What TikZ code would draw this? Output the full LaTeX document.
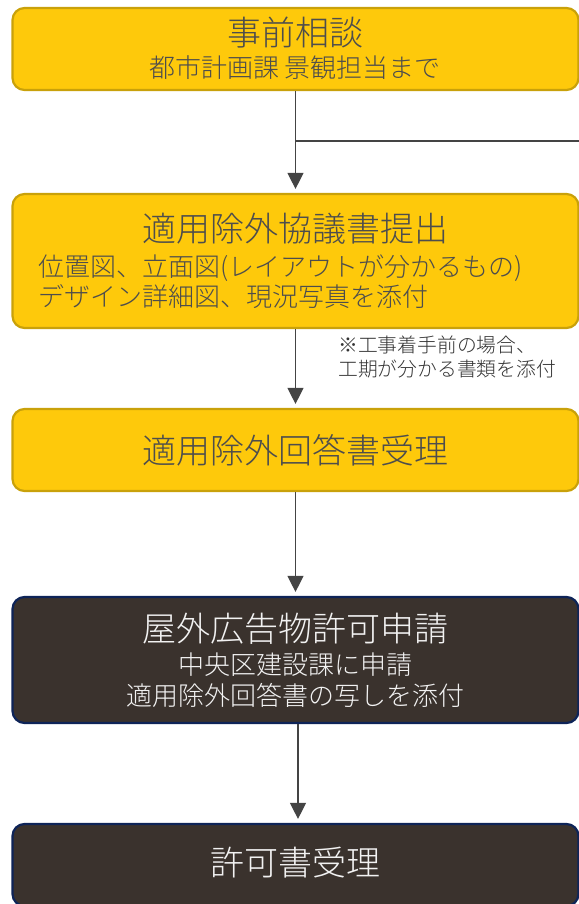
\documentclass[tikz,border=0pt]{standalone}
\usepackage{fontspec}
\setmainfont{Noto Sans CJK JP}[UprightFont=* Light]
\usetikzlibrary{arrows.meta}
\definecolor{yfill}{HTML}{FEC90B}
\definecolor{yline}{HTML}{C9A10A}
\definecolor{dfill}{HTML}{3A322D}
\definecolor{dline}{HTML}{0E2458}
\definecolor{ytext}{HTML}{4D4D4D}
\definecolor{ntext}{HTML}{333333}
\definecolor{dtext}{HTML}{F2F2F2}
\definecolor{arrc}{HTML}{444444}
\begin{document}
\begin{tikzpicture}[x=1pt,y=-1pt,
  ybox/.style={draw=yline, fill=yfill, line width=2.2pt, rounded corners=12pt, minimum width=566pt, inner sep=0pt},
  dbox/.style={draw=dline, fill=dfill, line width=2.2pt, rounded corners=12pt, minimum width=566pt, inner sep=0pt},
  ttl/.style={font=\fontsize{34}{38}\selectfont, inner sep=0pt},
  sub/.style={font=\fontsize{26}{29}\selectfont, inner sep=0pt},
  note/.style={font=\fontsize{19.8}{22}\selectfont, inner sep=0pt, text=ntext, anchor=west},
  arrowline/.style={draw=arrc, line width=1.3pt, -{Triangle[width=16pt,length=16pt]}, shorten >=4pt},
  plainline/.style={draw=arrc, line width=1.3pt}
]
\useasboundingbox (0,0) rectangle (578,904);

% boxes
\node[ybox, minimum height=82pt]  (b1) at (295.5,49)  {};
\node[ybox, minimum height=134pt] (b2) at (295.5,261) {};
\node[ybox, minimum height=82pt]  (b3) at (295.5,450) {};
\node[dbox, minimum height=126pt] (b4) at (295.5,660) {};
\node[dbox, minimum height=82pt]  (b5) at (295.5,865) {};

% texts
\node[ttl, text=ytext] (t1) at (295,33) {事前相談};
\node[sub, text=ytext] (s1) at (295,68) {都市計画課 景観担当まで};

\node[ttl, text=ytext] (t2) at (295,229) {適用除外協議書提出};
\node[sub, text=ytext, anchor=west] (s2a) at (38,268) {位置図、立面図(レイアウトが分かるもの)};
\node[sub, text=ytext, anchor=west] (s2b) at (38,297) {デザイン詳細図、現況写真を添付};

\node[note] (n1) at (338,345) {※工事着手前の場合、};
\node[note] (n2) at (338,369) {工期が分かる書類を添付};

\node[ttl, text=ytext] (t3) at (295,450) {適用除外回答書受理};

\node[ttl, text=dtext] (t4) at (295,629) {屋外広告物許可申請};
\node[sub, text=dtext] (s4a) at (295,665) {中央区建設課に申請};
\node[sub, text=dtext] (s4b) at (295,695) {適用除外回答書の写しを添付};

\node[ttl, text=dtext] (t5) at (295,863) {許可書受理};

% connectors
\draw[arrowline] (b1.south) -- (b2.north);
\coordinate (j1) at (295.5,141);
\coordinate (jr) at (580,141);
\draw[plainline] (j1) -- (jr);
\draw[arrowline] (b2.south) -- (b3.north);
\draw[arrowline] (b3.south) -- (b4.north);
\draw[arrowline] ([xshift=2.5pt]b4.south) -- ([xshift=2.5pt]b5.north);
\end{tikzpicture}
\end{document}
